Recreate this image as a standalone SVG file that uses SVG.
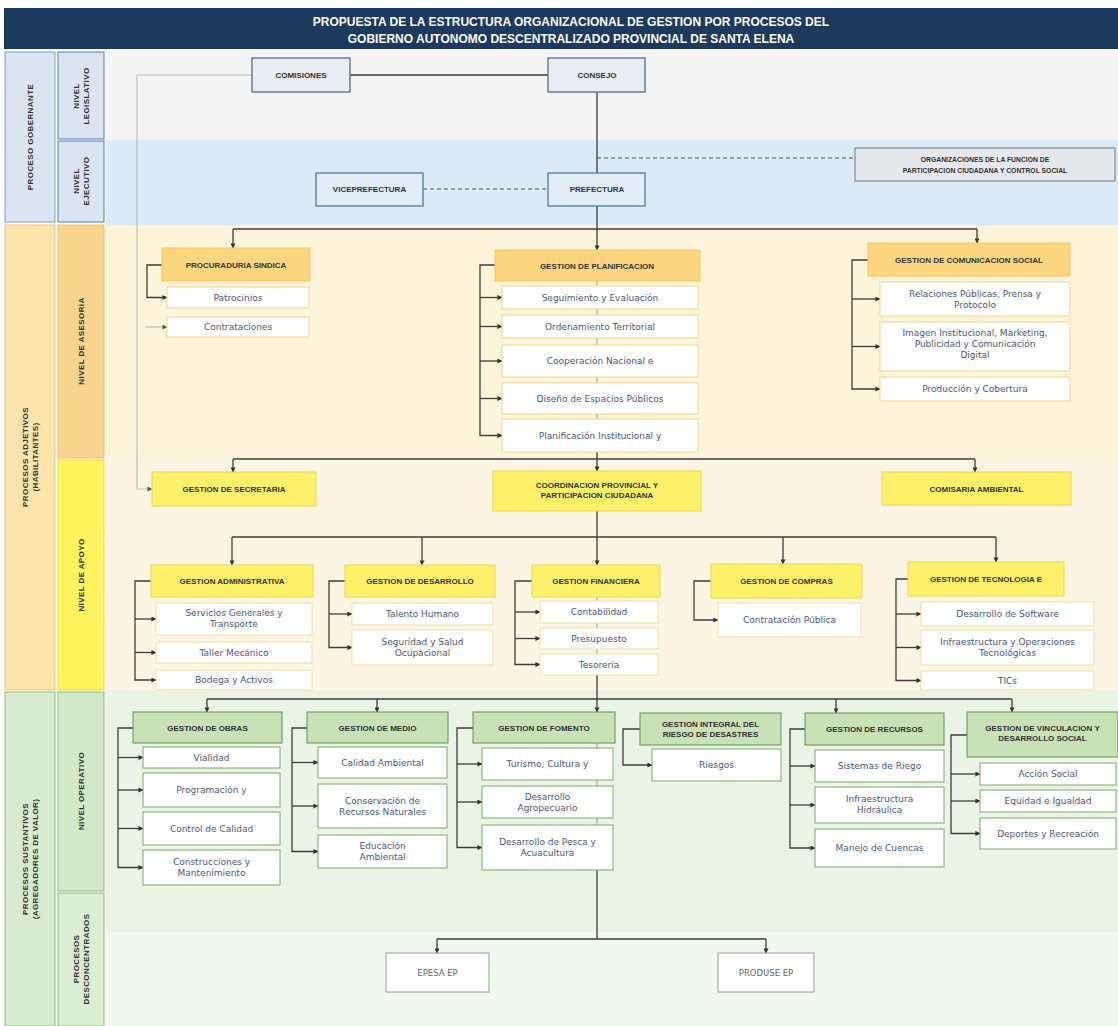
<svg xmlns="http://www.w3.org/2000/svg" width="1118" height="1026" viewBox="0 0 1118 1026">
<defs>
<marker id="a" viewBox="0 0 6 6" refX="5.5" refY="3" markerWidth="5" markerHeight="5" orient="auto" markerUnits="userSpaceOnUse"><path d="M0,0 L6,3 L0,6 z" fill="#333"/></marker>
<marker id="ag" viewBox="0 0 6 6" refX="5.5" refY="3" markerWidth="5" markerHeight="5" orient="auto" markerUnits="userSpaceOnUse"><path d="M0,0 L6,3 L0,6 z" fill="#555"/></marker>
</defs>
<style>
.ln{stroke:#3c3c3c;stroke-width:1.3;fill:none}
.lg{stroke:#bdbdbd;stroke-width:1.2;fill:none}
.ds{stroke:#555;stroke-width:1.1;stroke-dasharray:4 3;fill:none}
.tk{stroke:#9a9a9a;stroke-width:1;fill:none}
.gov{fill:#e9edf2;stroke:#5f7590;stroke-width:1.4}
.exe{fill:#e2edf8;stroke:#5a7fa8;stroke-width:1.4}
.org{fill:#e6e8eb;stroke:#7e8a97;stroke-width:1.2}
.hA{fill:#fcd67e;stroke:#f3c661;stroke-width:1}
.sA{fill:#fff;stroke:#f2d58f;stroke-width:1}
.hB{fill:#fdf16a;stroke:#e7d94f;stroke-width:1}
.sB{fill:#fff;stroke:#eee19b;stroke-width:1}
.hC{fill:#c8e1b6;stroke:#6e9a5b;stroke-width:1.1}
.sC{fill:#fff;stroke:#7ea86c;stroke-width:1}
.dc{fill:#fff;stroke:#9a9a9a;stroke-width:1}
.ht{font-family:"Liberation Sans",Arial,sans-serif;font-weight:bold;font-size:8px;fill:#333;text-anchor:middle}
.ot{font-family:"Liberation Sans",Arial,sans-serif;font-weight:bold;font-size:6.8px;fill:#333;text-anchor:middle}
.st{font-family:"DejaVu Sans",sans-serif;font-size:9px;fill:#4d5878;text-anchor:middle}
.dt{font-family:"DejaVu Sans",sans-serif;font-size:8.5px;fill:#666;text-anchor:middle}
.lt{font-family:"Liberation Sans",Arial,sans-serif;font-weight:bold;font-size:8px;fill:#333;text-anchor:middle;letter-spacing:0.4px}
.tt{font-family:"Liberation Sans",Arial,sans-serif;font-weight:bold;font-size:12px;fill:#fff;text-anchor:middle}
</style>

<rect width="1118" height="1026" fill="#fff"/>

<g id="bands">
<rect x="106" y="50" width="1012" height="90" fill="#f4f4f4"/>
<rect x="106" y="140" width="1012" height="85" fill="#dce9f6"/>
<rect x="106" y="225" width="1012" height="233" fill="#fef4d9"/>
<rect x="106" y="458" width="1012" height="232" fill="#fdf5e4"/>
<rect x="106" y="690" width="1012" height="242" fill="#eaf4e4"/>
<rect x="106" y="932" width="1012" height="94" fill="#f1f8ee"/>
</g>

<g id="title">
<rect x="4" y="8" width="1114" height="41" fill="#1c3a5e"/>
<text class="tt" x="571" y="26">PROPUESTA DE LA ESTRUCTURA ORGANIZACIONAL DE GESTION POR PROCESOS DEL</text>
<text class="tt" x="571" y="43">GOBIERNO AUTONOMO DESCENTRALIZADO PROVINCIAL DE SANTA ELENA</text>
</g>

<g id="labels">
<rect x="5" y="52" width="50" height="170" fill="#dbe5f1" stroke="#7da0cc"/>
<rect x="5" y="225" width="50" height="465" fill="#fde4ab" stroke="#e9c57a"/>
<rect x="5" y="692" width="50" height="334" fill="#d8ebd0" stroke="#8fb77f"/>
<rect x="58" y="52" width="46" height="87" fill="#dbe5f1" stroke="#4f7fb8"/>
<rect x="58" y="141" width="46" height="81" fill="#dbe5f1" stroke="#4f7fb8"/>
<rect x="58" y="225" width="46" height="233" fill="#f9d48e" stroke="#efc06a"/>
<rect x="58" y="460" width="46" height="230" fill="#fdf45e" stroke="#e9d94a"/>
<rect x="58" y="692" width="46" height="199" fill="#d3e8c9" stroke="#8fb77f"/>
<rect x="58" y="893" width="46" height="133" fill="#dbeed3" stroke="#8fb77f"/>
<g transform="translate(30,137) rotate(-90)"><text class="lt" x="0" y="3">PROCESO GOBERNANTE</text></g>
<g transform="translate(81,96) rotate(-90)"><text class="lt" x="0" y="-2">NIVEL</text><text class="lt" x="0" y="8">LEGISLATIVO</text></g>
<g transform="translate(81,181) rotate(-90)"><text class="lt" x="0" y="-2">NIVEL</text><text class="lt" x="0" y="8">EJECUTIVO</text></g>
<g transform="translate(30,457) rotate(-90)"><text class="lt" x="0" y="-2">PROCESOS ADJETIVOS</text><text class="lt" x="0" y="8">(HABILITANTES)</text></g>
<g transform="translate(81,341) rotate(-90)"><text class="lt" x="0" y="3">NIVEL DE ASESORIA</text></g>
<g transform="translate(81,575) rotate(-90)"><text class="lt" x="0" y="3">NIVEL DE APOYO</text></g>
<g transform="translate(30,859) rotate(-90)"><text class="lt" x="0" y="-2">PROCESOS SUSTANTIVOS</text><text class="lt" x="0" y="8">(AGREGADORES DE VALOR)</text></g>
<g transform="translate(81,791) rotate(-90)"><text class="lt" x="0" y="3">NIVEL OPERATIVO</text></g>
<g transform="translate(81,959) rotate(-90)"><text class="lt" x="0" y="-2">PROCESOS</text><text class="lt" x="0" y="8">DESCONCENTRADOS</text></g>
</g>

<g id="connectors">
<path class="ln" d="M350 75 H548"/>
<path class="ln" d="M597 92 V173"/>
<path class="ds" d="M597 158 H855"/>
<path class="ds" d="M423 189 H548"/>
<path class="lg" d="M252 75 H137 V489 H152" marker-end="url(#ag)"/>
<path class="ln" d="M233 229 H977"/>
<path class="ln" d="M233 229 V248" marker-end="url(#a)"/>
<path class="ln" d="M597 206 V250" marker-end="url(#a)"/>
<path class="ln" d="M977 229 V243" marker-end="url(#a)"/>
<path class="ln" d="M162 265 H147 V297.5 H167" marker-end="url(#a)"/>
<path class="lg" d="M145 327 H167" marker-end="url(#ag)"/>
<path class="ln" d="M495 265 H480 V435.5 H502" marker-end="url(#a)"/>
<path class="ln" d="M480 297.5 H502" marker-end="url(#a)"/>
<path class="ln" d="M480 326.5 H502" marker-end="url(#a)"/>
<path class="ln" d="M480 361 H502" marker-end="url(#a)"/>
<path class="ln" d="M480 398.5 H502" marker-end="url(#a)"/>
<path class="tk" d="M597 281 V286 M597 309 V315 M597 338 V345 M597 377 V383 M597 414 V419"/>
<path class="ln" d="M868 260 H852 V389 H880" marker-end="url(#a)"/>
<path class="ln" d="M852 299 H880" marker-end="url(#a)"/>
<path class="ln" d="M852 346.5 H880" marker-end="url(#a)"/>
<path class="ln" d="M233 459 H975"/>
<path class="ln" d="M597 452 V471" marker-end="url(#a)"/>
<path class="ln" d="M233 459 V472" marker-end="url(#a)"/>
<path class="ln" d="M975 459 V472" marker-end="url(#a)"/>
<path class="ln" d="M232 537 H996"/>
<path class="ln" d="M597 511 V565" marker-end="url(#a)"/>
<path class="ln" d="M232 537 V565" marker-end="url(#a)"/>
<path class="ln" d="M422 537 V565" marker-end="url(#a)"/>
<path class="ln" d="M783 537 V564" marker-end="url(#a)"/>
<path class="ln" d="M996 537 V562" marker-end="url(#a)"/>
<path class="ln" d="M151 581 H135 V680 H156" marker-end="url(#a)"/>
<path class="ln" d="M135 619 H156" marker-end="url(#a)"/>
<path class="ln" d="M135 652.5 H156" marker-end="url(#a)"/>
<path class="ln" d="M345 581 H329 V647.5 H352" marker-end="url(#a)"/>
<path class="ln" d="M329 614 H352" marker-end="url(#a)"/>
<path class="ln" d="M532 581 H515 V664.5 H540" marker-end="url(#a)"/>
<path class="ln" d="M515 612 H540" marker-end="url(#a)"/>
<path class="ln" d="M515 638.5 H540" marker-end="url(#a)"/>
<path class="tk" d="M597 597 V601 M597 623 V628 M597 649 V654"/>
<path class="ln" d="M711 581 H694 V620 H718" marker-end="url(#a)"/>
<path class="ln" d="M908 579 H896 V680.5 H921" marker-end="url(#a)"/>
<path class="ln" d="M896 614 H921" marker-end="url(#a)"/>
<path class="ln" d="M896 647.5 H921" marker-end="url(#a)"/>
<path class="ln" d="M207 699 H1012"/>
<path class="ln" d="M597 675 V712" marker-end="url(#a)"/>
<path class="ln" d="M207 699 V712" marker-end="url(#a)"/>
<path class="ln" d="M377 699 V712" marker-end="url(#a)"/>
<path class="ln" d="M836 699 V713" marker-end="url(#a)"/>
<path class="ln" d="M1012 699 V712" marker-end="url(#a)"/>
<path class="ln" d="M133 728 H118 V867.5 H143" marker-end="url(#a)"/>
<path class="ln" d="M118 757.5 H143" marker-end="url(#a)"/>
<path class="ln" d="M118 790 H143" marker-end="url(#a)"/>
<path class="ln" d="M118 828.5 H143" marker-end="url(#a)"/>
<path class="ln" d="M307 728 H292 V851.5 H318" marker-end="url(#a)"/>
<path class="ln" d="M292 762.5 H318" marker-end="url(#a)"/>
<path class="ln" d="M292 806 H318" marker-end="url(#a)"/>
<path class="ln" d="M473 728 H457 V847.5 H482" marker-end="url(#a)"/>
<path class="ln" d="M457 764 H482" marker-end="url(#a)"/>
<path class="ln" d="M457 802 H482" marker-end="url(#a)"/>
<path class="tk" d="M597 743 V748 M597 780 V786 M597 818 V825"/>
<path class="ln" d="M640 729 H623 V765 H652" marker-end="url(#a)"/>
<path class="ln" d="M805 729 H790 V848 H815" marker-end="url(#a)"/>
<path class="ln" d="M790 766 H815" marker-end="url(#a)"/>
<path class="ln" d="M790 805 H815" marker-end="url(#a)"/>
<path class="ln" d="M967 735 H951 V833.5 H980" marker-end="url(#a)"/>
<path class="ln" d="M951 774 H980" marker-end="url(#a)"/>
<path class="ln" d="M951 801 H980" marker-end="url(#a)"/>
<path class="ln" d="M597 870 V939 M437 939 H766"/>
<path class="ln" d="M437 939 V953" marker-end="url(#a)"/>
<path class="ln" d="M766 939 V953" marker-end="url(#a)"/>
</g>

<g id="comisiones"><rect class="gov" x="252" y="58" width="98" height="34"/><text class="ht" x="301" y="78">COMISIONES</text></g>
<g id="consejo"><rect class="gov" x="548" y="58" width="97" height="34"/><text class="ht" x="597" y="78">CONSEJO</text></g>
<g id="organizaciones"><rect class="org" x="855" y="148" width="260" height="33"/><text class="ot" x="985" y="162">ORGANIZACIONES DE LA FUNCION DE</text><text class="ot" x="985" y="173">PARTICIPACION CIUDADANA Y CONTROL SOCIAL</text></g>
<g id="viceprefectura"><rect class="exe" x="316" y="173" width="107" height="33"/><text class="ht" x="369.5" y="192">VICEPREFECTURA</text></g>
<g id="prefectura"><rect class="exe" x="548" y="173" width="97" height="33"/><text class="ht" x="597" y="192">PREFECTURA</text></g>

<g id="procuraduria">
<rect class="hA" x="162" y="248" width="148" height="33"/><text class="ht" x="236" y="267.5">PROCURADURIA SINDICA</text>
<rect class="sA" x="167" y="287" width="142" height="21"/><text class="st" x="238" y="300.5">Patrocinios</text>
<rect class="sA" x="167" y="317" width="142" height="20"/><text class="st" x="238" y="330">Contrataciones</text>
</g>
<g id="planificacion">
<rect class="hA" x="495" y="250" width="205" height="31"/><text class="ht" x="597" y="268.5">GESTION DE PLANIFICACION</text>
<rect class="sA" x="502" y="286" width="196" height="23"/><text class="st" x="600" y="300.5">Seguimiento y Evaluación</text>
<rect class="sA" x="502" y="315" width="196" height="23"/><text class="st" x="600" y="329.5">Ordenamiento Territorial</text>
<rect class="sA" x="502" y="345" width="196" height="32"/><text class="st" x="600" y="364">Cooperación Nacional e</text>
<rect class="sA" x="502" y="383" width="196" height="31"/><text class="st" x="600" y="401.5">Diseño de Espacios Públicos</text>
<rect class="sA" x="502" y="419" width="196" height="33"/><text class="st" x="600" y="438.5">Planificación Institucional y</text>
</g>
<g id="comunicacion">
<rect class="hA" x="868" y="243" width="202" height="33"/><text class="ht" x="969" y="262.5">GESTION DE COMUNICACION SOCIAL</text>
<rect class="sA" x="880" y="282" width="190" height="34"/><text class="st" x="975" y="297">Relaciones Públicas, Prensa y</text><text class="st" x="975" y="308">Protocolo</text>
<rect class="sA" x="880" y="322" width="190" height="49"/><text class="st" x="975" y="335.5">Imagen Institucional, Marketing,</text><text class="st" x="975" y="346.5">Publicidad y Comunicación</text><text class="st" x="975" y="357.5">Digital</text>
<rect class="sA" x="880" y="377" width="190" height="24"/><text class="st" x="975" y="392">Producción y Cobertura</text>
</g>

<g id="secretaria"><rect class="hB" x="152" y="472" width="164" height="34"/><text class="ht" x="234" y="492">GESTION DE SECRETARIA</text></g>
<g id="coordinacion"><rect class="hB" x="493" y="471" width="208" height="40"/><text class="ht" x="597" y="488">COORDINACION PROVINCIAL Y</text><text class="ht" x="597" y="498">PARTICIPACION CIUDADANA</text></g>
<g id="comisaria"><rect class="hB" x="882" y="472" width="189" height="33"/><text class="ht" x="976.5" y="491.5">COMISARIA AMBIENTAL</text></g>

<g id="administrativa">
<rect class="hB" x="151" y="565" width="162" height="32"/><text class="ht" x="232" y="584">GESTION ADMINISTRATIVA</text>
<rect class="sB" x="156" y="603" width="156" height="32"/><text class="st" x="234" y="616">Servicios Generales y</text><text class="st" x="234" y="627">Transporte</text>
<rect class="sB" x="156" y="642" width="156" height="21"/><text class="st" x="234" y="655.5">Taller Mecánico</text>
<rect class="sB" x="156" y="670" width="156" height="20"/><text class="st" x="234" y="683">Bodega y Activos</text>
</g>
<g id="desarrollo">
<rect class="hB" x="345" y="565" width="150" height="32"/><text class="ht" x="420" y="584">GESTION DE DESARROLLO</text>
<rect class="sB" x="352" y="603" width="141" height="22"/><text class="st" x="422.5" y="617">Talento Humano</text>
<rect class="sB" x="352" y="630" width="141" height="35"/><text class="st" x="422.5" y="645">Seguridad y Salud</text><text class="st" x="422.5" y="656">Ocupacional</text>
</g>
<g id="financiera">
<rect class="hB" x="532" y="565" width="128" height="32"/><text class="ht" x="596" y="584">GESTION FINANCIERA</text>
<rect class="sB" x="540" y="601" width="118" height="22"/><text class="st" x="599" y="615">Contabilidad</text>
<rect class="sB" x="540" y="628" width="118" height="21"/><text class="st" x="599" y="641.5">Presupuesto</text>
<rect class="sB" x="540" y="654" width="118" height="21"/><text class="st" x="599" y="667.5">Tesorería</text>
</g>
<g id="compras">
<rect class="hB" x="711" y="564" width="151" height="34"/><text class="ht" x="786.5" y="584">GESTION DE COMPRAS</text>
<rect class="sB" x="718" y="603" width="143" height="34"/><text class="st" x="789.5" y="623">Contratación Pública</text>
</g>
<g id="tecnologia">
<rect class="hB" x="908" y="562" width="156" height="34"/><text class="ht" x="986" y="582">GESTION DE TECNOLOGIA E</text>
<rect class="sB" x="921" y="602" width="173" height="24"/><text class="st" x="1007.5" y="617">Desarrollo de Software</text>
<rect class="sB" x="921" y="630" width="173" height="35"/><text class="st" x="1007.5" y="645">Infraestructura y Operaciones</text><text class="st" x="1007.5" y="656">Tecnológicas</text>
<rect class="sB" x="921" y="671" width="173" height="19"/><text class="st" x="1007.5" y="683.5">TICs</text>
</g>

<g id="obras">
<rect class="hC" x="133" y="712" width="149" height="31"/><text class="ht" x="207.5" y="730.5">GESTION DE OBRAS</text>
<rect class="sC" x="143" y="747" width="137" height="21"/><text class="st" x="211.5" y="760.5">Vialidad</text>
<rect class="sC" x="143" y="773" width="137" height="34"/><text class="st" x="211.5" y="793">Programación y</text>
<rect class="sC" x="143" y="812" width="137" height="33"/><text class="st" x="211.5" y="831.5">Control de Calidad</text>
<rect class="sC" x="143" y="850" width="137" height="35"/><text class="st" x="211.5" y="865">Construcciones y</text><text class="st" x="211.5" y="876">Mantenimiento</text>
</g>
<g id="medio">
<rect class="hC" x="307" y="712" width="141" height="31"/><text class="ht" x="377.5" y="730.5">GESTION DE MEDIO</text>
<rect class="sC" x="318" y="747" width="129" height="31"/><text class="st" x="382.5" y="765.5">Calidad Ambiental</text>
<rect class="sC" x="318" y="784" width="129" height="44"/><text class="st" x="382.5" y="803.5">Conservación de</text><text class="st" x="382.5" y="814.5">Recursos Naturales</text>
<rect class="sC" x="318" y="835" width="129" height="33"/><text class="st" x="382.5" y="849">Educación</text><text class="st" x="382.5" y="860">Ambiental</text>
</g>
<g id="fomento">
<rect class="hC" x="473" y="712" width="142" height="31"/><text class="ht" x="544" y="730.5">GESTION DE FOMENTO</text>
<rect class="sC" x="482" y="748" width="131" height="32"/><text class="st" x="547.5" y="767">Turismo, Cultura y</text>
<rect class="sC" x="482" y="786" width="131" height="32"/><text class="st" x="547.5" y="799.5">Desarrollo</text><text class="st" x="547.5" y="810.5">Agropecuario</text>
<rect class="sC" x="482" y="825" width="131" height="45"/><text class="st" x="547.5" y="845">Desarrollo de Pesca y</text><text class="st" x="547.5" y="856">Acuacultura</text>
</g>
<g id="riesgo">
<rect class="hC" x="640" y="713" width="141" height="32"/><text class="ht" x="710.5" y="726.5">GESTION INTEGRAL DEL</text><text class="ht" x="710.5" y="736.5">RIESGO DE DESASTRES</text>
<rect class="sC" x="652" y="749" width="129" height="32"/><text class="st" x="716.5" y="768">Riesgos</text>
</g>
<g id="recursos">
<rect class="hC" x="805" y="713" width="139" height="32"/><text class="ht" x="874.5" y="732">GESTION DE RECURSOS</text>
<rect class="sC" x="815" y="750" width="129" height="32"/><text class="st" x="879.5" y="769">Sistemas de Riego</text>
<rect class="sC" x="815" y="787" width="129" height="36"/><text class="st" x="879.5" y="802">Infraestructura</text><text class="st" x="879.5" y="813">Hidráulica</text>
<rect class="sC" x="815" y="829" width="129" height="38"/><text class="st" x="879.5" y="851">Manejo de Cuencas</text>
</g>
<g id="vinculacion">
<rect class="hC" x="967" y="712" width="151" height="45"/><text class="ht" x="1042.5" y="731">GESTION DE VINCULACION Y</text><text class="ht" x="1042.5" y="741">DESARROLLO SOCIAL</text>
<rect class="sC" x="980" y="763" width="136" height="22"/><text class="st" x="1048" y="777">Acción Social</text>
<rect class="sC" x="980" y="790" width="136" height="22"/><text class="st" x="1048" y="804">Equidad e Igualdad</text>
<rect class="sC" x="980" y="818" width="136" height="31"/><text class="st" x="1048" y="836.5">Deportes y Recreación</text>
</g>

<g id="epesa"><rect class="dc" x="386" y="953" width="103" height="39"/><text class="dt" x="437.5" y="975.5">EPESA EP</text></g>
<g id="produse"><rect class="dc" x="718" y="953" width="96" height="39"/><text class="dt" x="766" y="975.5">PRODUSE EP</text></g>
</svg>
